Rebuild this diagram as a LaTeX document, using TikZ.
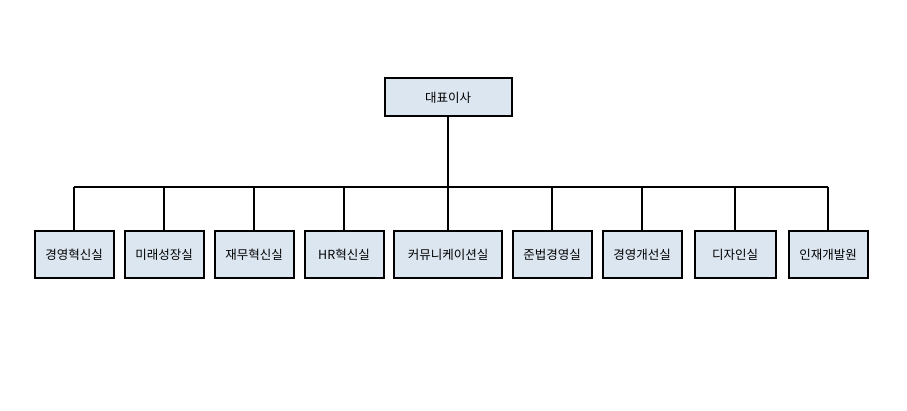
\documentclass[tikz,border=0pt]{standalone}
\usepackage{fontspec}
\newfontfamily\kr{Noto Sans CJK KR}
\usetikzlibrary{positioning}
\definecolor{boxfill}{HTML}{DCE6F1}
\begin{document}
\begin{tikzpicture}[x=1pt,y=-1pt,
  orgbox/.style={rectangle, draw, line width=2pt, fill=boxfill, minimum height=47pt, inner sep=2pt, font=\kr\fontsize{12.5}{14}\selectfont},
  link/.style={line width=2pt}]
\useasboundingbox (0,0) rectangle (907,411);

% top
\node [orgbox, minimum width=127pt, minimum height=38pt] (ceo) at (448,97.5) {대표이사};

% departments
\node [orgbox, minimum width=79pt] (d1) at (74,255) {경영혁신실};
\node [orgbox, minimum width=79pt] (d2) at (164,255) {미래성장실};
\node [orgbox, minimum width=79pt] (d3) at (254,255) {재무혁신실};
\node [orgbox, minimum width=79pt] (d4) at (344,255) {HR혁신실};
\node [orgbox, minimum width=108pt] (d5) at (448,255) {커뮤니케이션실};
\node [orgbox, minimum width=79pt] (d6) at (552,255) {준법경영실};
\node [orgbox, minimum width=79pt] (d7) at (642,255) {경영개선실};
\node [orgbox, minimum width=81pt] (d8) at (735,255) {디자인실};
\node [orgbox, minimum width=79pt] (d9) at (828,255) {인재개발원};

\coordinate (bus) at (448,187);
\draw [link] (ceo.south) -- (bus);
\draw [link] (d1.north |- bus) -- (d9.north |- bus);
\foreach \d in {d1,d2,d3,d4,d5,d6,d7,d8,d9}
  \draw [link] (\d.north |- bus) -- (\d.north);

\end{tikzpicture}
\end{document}
